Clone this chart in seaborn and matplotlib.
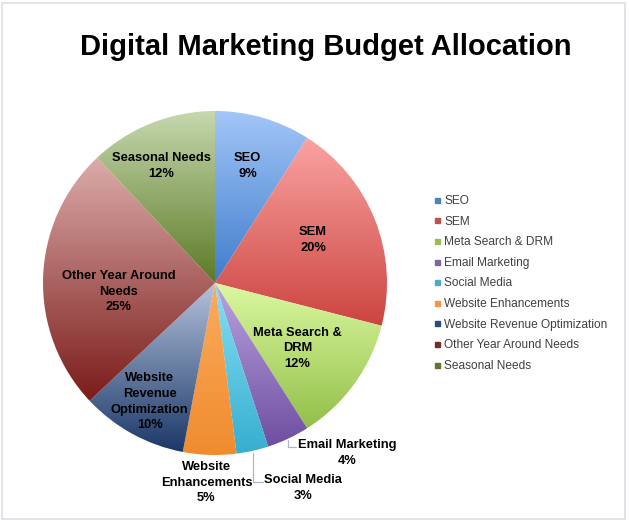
import numpy as np
import matplotlib
matplotlib.use("Agg")
import matplotlib.pyplot as plt
import seaborn as sns
from matplotlib.colors import LinearSegmentedColormap
from matplotlib.lines import Line2D
from matplotlib.patches import Rectangle

categories = ['SEO', 'SEM', 'Meta Search & DRM', 'Email Marketing', 'Social Media',
              'Website Enhancements', 'Website Revenue Optimization',
              'Other Year Around Needs', 'Seasonal Needs']
shares = [9, 20, 12, 4, 3, 5, 10, 25, 12]
slice_labels = ['SEO', 'SEM', 'Meta Search &\nDRM', 'Email Marketing', 'Social Media',
                'Website\nEnhancements', 'Website\nRevenue\nOptimization',
                'Other Year Around\nNeeds', 'Seasonal Needs']

sns.set_theme(style="white")
plt.rcParams['font.family'] = ['Liberation Sans', 'DejaVu Sans']

base_colors = ['#4f81bd', '#c0504d', '#9bbb59', '#8064a2', '#4bacc6',
               '#f79646', '#2c4d75', '#772c2a', '#5f7530']
grad_colors = [('#a3c6f7', '#3f7ccc'), ('#f9a3a1', '#cc4440'), ('#dcf8a0', '#92c04a'),
               ('#baa3e0', '#6e4ea0'), ('#86e0f5', '#36aed0'), ('#fbab5e', '#f08c2e'),
               ('#b4c2dc', '#1c3868'), ('#dcacaa', '#7a1c1a'), ('#c6d8ae', '#5c7a26')]
# label centres in pie-radius units
label_pos = [(0.19, 0.68), (0.57, 0.25), (0.48, -0.38), (0.77, -0.99), (0.51, -1.19),
             (-0.05, -1.16), (-0.38, -0.69), (-0.56, -0.05), (-0.31, 0.68)]

W, H = 629, 525
fig = plt.figure(figsize=(W / 100, H / 100), dpi=100)
fig.patch.set_facecolor('white')
fig.patches.append(Rectangle((2 / W, 1 - 519 / H), 623 / W, 516 / H, transform=fig.transFigure,
                             fill=False, edgecolor='#d9e0e8', linewidth=1.2))

cx, cy, R = 215, 283, 172
ax = fig.add_axes([(cx - R) / W, 1 - (cy + R) / H, 2 * R / W, 2 * R / H])

wedges, _ = ax.pie(shares, startangle=90, counterclock=False, radius=1,
                   wedgeprops=dict(linewidth=0))

grad = np.linspace(0, 1, 256).reshape(-1, 1)
for w, (ctop, cbot) in zip(wedges, grad_colors):
    ext = w.get_path().get_extents()
    cmap = LinearSegmentedColormap.from_list('g', [cbot, ctop])
    im = ax.imshow(grad, cmap=cmap, origin='lower', aspect='auto',
                   extent=(ext.x0, ext.x1, ext.y0, ext.y1), zorder=1)
    im.set_clip_path(w)
    w.set_facecolor('none')

for w, lab, s, (lx, ly) in zip(wedges, slice_labels, shares, label_pos):
    ax.text(lx, ly, f"{lab}\n{s}%", ha='center', va='center', fontsize=9.3,
            fontweight='bold', color='black', linespacing=1.42, zorder=5)

# leader lines for the two small outside labels
leader_end = {3: 0.47, 4: 0.28}
for i, xl in leader_end.items():
    w = wedges[i]
    mid = np.deg2rad((w.theta1 + w.theta2) / 2)
    x0, y0 = np.cos(mid), np.sin(mid)
    yl = label_pos[i][1] + 0.035
    ax.plot([x0, x0, xl], [y0 - 0.01, yl, yl], color='#a9b8cc', linewidth=0.9,
            clip_on=False, zorder=4)

ax.set_xlim(-1, 1)
ax.set_ylim(-1, 1)
ax.set_aspect('equal')
ax.axis('off')

fig.text(326 / W, 1 - 47 / H, 'Digital Marketing Budget Allocation', ha='center', va='center',
         fontsize=21, fontweight='bold', color='black')

handles = [Line2D([], [], marker='s', linestyle='none', markersize=3.6,
                  markerfacecolor=c, markeredgecolor=c) for c in base_colors]
fig.legend(handles, categories, loc='upper left', bbox_to_anchor=(433 / W, 1 - 195 / H),
           frameon=False, fontsize=8.6, labelcolor='#404040', handlelength=0.6,
           handletextpad=0.35, labelspacing=0.72, borderaxespad=0, borderpad=0)

fig.savefig('out.png', dpi=100, facecolor='white')
